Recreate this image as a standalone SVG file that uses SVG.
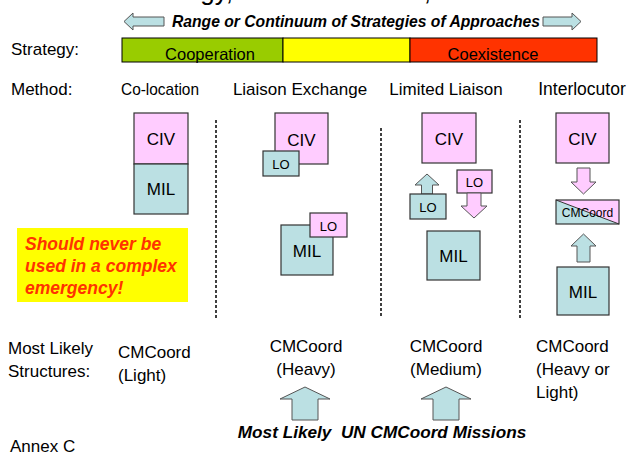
<svg xmlns="http://www.w3.org/2000/svg" width="629" height="455" viewBox="0 0 629 455">
<style>
text{font-family:"Liberation Sans",Arial,sans-serif;fill:#000;}
.t{font-size:17px;}
.bi{font-weight:bold;font-style:italic;}
.civ{fill:#FFCCFF;stroke:#333;stroke-width:1.2;}
.mil{fill:#BBE0E3;stroke:#333;stroke-width:1.2;}
.ap{fill:#FFCCFF;stroke:#555;stroke-width:1;}
.ab{fill:#BBE0E3;stroke:#555;stroke-width:1;}
.dash{stroke:#000;stroke-width:1.5;stroke-dasharray:3,2;fill:none;}
.c{text-anchor:middle;}
</style>
<rect width="629" height="455" fill="#fff"/>
<text y="-0.5" style="font-size:26px;text-anchor:end"><tspan x="233">Strategy,</tspan><tspan x="431">Method,</tspan></text>

<g id="range">
<path class="ab" d="M124,21.5 L133,13 L133,17 L164,17 L164,26 L133,26 L133,30 Z"/>
<text x="356" y="27" class="c bi" style="font-size:15.7px">Range or Continuum of Strategies of Approaches</text>
<path class="ab" d="M581,21.5 L572,13 L572,17 L543,17 L543,26 L572,26 L572,30 Z"/>
</g>

<g id="strategy">
<text x="11" y="55" class="t">Strategy:</text>
<rect x="122" y="38" width="161" height="24" fill="#99CC00" stroke="#000"/>
<rect x="283" y="38" width="127" height="24" fill="#FFFF00" stroke="#000"/>
<rect x="410" y="38" width="187" height="24" fill="#FF3300" stroke="#000"/>
<text x="210" y="60" class="t c" style="font-size:16.5px">Cooperation</text>
<text x="493" y="60" class="t c" style="font-size:16.5px">Coexistence</text>
</g>

<g id="methods">
<text x="11" y="95" class="t">Method:</text>
<text x="121" y="95" class="t" textLength="78" lengthAdjust="spacingAndGlyphs">Co-location</text>
<text x="300" y="95" class="t c">Liaison Exchange</text>
<text x="446" y="95" class="t c">Limited Liaison</text>
<text x="582" y="95" class="c" style="font-size:17.5px">Interlocutor</text>
</g>

<g id="connectors">
<line class="dash" x1="216" y1="120" x2="216" y2="318"/>
<line class="dash" x1="381" y1="128" x2="381" y2="318"/>
<line class="dash" x1="520" y1="120" x2="520" y2="318"/>
</g>

<g id="colocation">
<rect class="civ" x="134" y="113" width="54" height="51"/>
<text x="161" y="145" class="t c">CIV</text>
<rect class="mil" x="134" y="164" width="54" height="50"/>
<text x="161" y="195" class="t c">MIL</text>
</g>

<g id="liaison-exchange">
<rect class="civ" x="275" y="113" width="53" height="51"/>
<text x="301.5" y="146" class="t c">CIV</text>
<rect class="mil" x="263" y="151" width="36" height="25"/>
<text x="281" y="169" class="c" style="font-size:13px">LO</text>
<rect class="mil" x="281" y="225" width="52" height="50"/>
<text x="307" y="257" class="t c">MIL</text>
<rect class="civ" x="310" y="213" width="37" height="24"/>
<text x="328.5" y="231" class="c" style="font-size:13px">LO</text>
</g>

<g id="limited-liaison">
<rect class="civ" x="422" y="113" width="54" height="50"/>
<text x="449" y="145" class="t c">CIV</text>
<path class="ab" d="M427,174 L439,185 L432.5,185 L432.5,194 L421.5,194 L421.5,185 L415,185 Z"/>
<rect class="mil" x="410" y="194" width="36" height="25"/>
<text x="428" y="212" class="c" style="font-size:13px">LO</text>
<rect class="civ" x="457" y="170" width="35" height="23"/>
<text x="474.5" y="187" class="c" style="font-size:13px">LO</text>
<path class="ap" d="M467,193 L481,193 L481,206 L487,206 L474,218 L461,206 L467,206 Z"/>
<rect class="mil" x="427" y="231" width="53" height="49"/>
<text x="453.5" y="262" class="t c">MIL</text>
</g>

<g id="interlocutor">
<rect class="civ" x="556" y="113" width="53" height="50"/>
<text x="582.5" y="145" class="t c">CIV</text>
<path class="ap" d="M577,168 L590,168 L590,182 L596,182 L583.5,194 L571,182 L577,182 Z"/>
<path d="M556,200 L619,224 L556,224 Z" fill="#BBE0E3"/>
<path d="M556,200 L619,200 L619,224 Z" fill="#FFCCFF"/>
<rect x="556" y="200" width="63" height="24" fill="none" stroke="#333" stroke-width="1.2"/>
<line x1="556" y1="200" x2="619" y2="224" stroke="#333" stroke-width="1"/>
<text x="587.5" y="217" class="c" style="font-size:12px">CMCoord</text>
<path class="ab" d="M583.5,234 L596,246 L590,246 L590,262 L577,262 L577,246 L571,246 Z"/>
<rect class="mil" x="557" y="267" width="52" height="48"/>
<text x="583" y="298" class="t c">MIL</text>
</g>

<g id="warning">
<rect x="17" y="228" width="171" height="74" fill="#FFFF00"/>
<text class="bi" style="font-size:17.5px;fill:#FF3300"><tspan x="25" y="250">Should never be</tspan><tspan x="25" y="272">used in a complex</tspan><tspan x="25" y="294">emergency!</tspan></text>
</g>

<g id="structures">
<text class="t"><tspan x="8" y="354">Most Likely</tspan><tspan x="8" y="377">Structures:</tspan></text>
<text class="t"><tspan x="118" y="358">CMCoord</tspan><tspan x="118" y="381">(Light)</tspan></text>
<text class="t c"><tspan x="306" y="352">CMCoord</tspan><tspan x="306" y="375">(Heavy)</tspan></text>
<text class="t c"><tspan x="446" y="352">CMCoord</tspan><tspan x="446" y="375">(Medium)</tspan></text>
<text class="t"><tspan x="536" y="352">CMCoord</tspan><tspan x="536" y="375">(Heavy or</tspan><tspan x="536" y="398">Light)</tspan></text>
</g>

<g id="missions">
<path class="ab" d="M305,387 L330,399 L318,399 L318,420 L292,420 L292,399 L280,399 Z"/>
<path class="ab" d="M446,387 L471,399 L459,399 L459,420 L433,420 L433,399 L421,399 Z"/>
<text x="382" y="438" class="c bi" style="font-size:17.2px" xml:space="preserve">Most Likely  UN CMCoord Missions</text>
</g>

<text x="10" y="452" class="t">Annex C</text>
</svg>
